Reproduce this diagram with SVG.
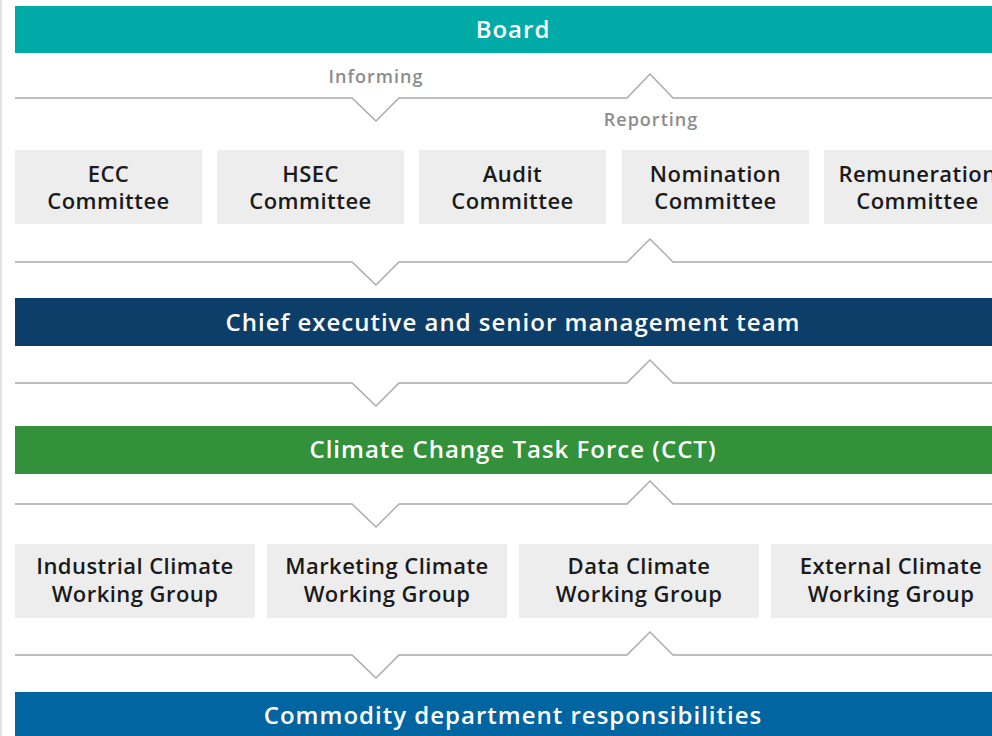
<svg xmlns="http://www.w3.org/2000/svg" width="992" height="736" viewBox="0 0 992 736">
<style>
.bar-t{font-family:"Open Sans","Liberation Sans",sans-serif;font-weight:600;font-size:24px;letter-spacing:1px;fill:#ffffff;text-anchor:middle}
.box{fill:#ededed}
.box-t{font-family:"Open Sans","Liberation Sans",sans-serif;font-weight:600;font-size:22px;letter-spacing:0.45px;fill:#1a1a1a;text-anchor:middle}
.lbl{font-family:"Open Sans","Liberation Sans",sans-serif;font-weight:600;font-size:18px;letter-spacing:1px;fill:#8c8c8c;text-anchor:middle}
.conn{fill:none;stroke:#a9a9a9;stroke-width:1.4}
</style>
<rect x="0" y="0" width="992" height="736" fill="#ffffff"/>
<rect x="0" y="0" width="2" height="736" fill="#e3e3e3"/>
<g id="connectors">
<polyline class="conn" points="15,98 352,98 376,121 399,98 627,98 650,74 673,98 992,98"/>
<polyline class="conn" points="15,262 352,262 376,285 399,262 627,262 650,239 673,262 992,262"/>
<polyline class="conn" points="15,383 352,383 376,406 399,383 627,383 650,360 673,383 992,383"/>
<polyline class="conn" points="15,504 352,504 376,527 399,504 627,504 650,481 673,504 992,504"/>
<polyline class="conn" points="15,655 352,655 376,678 399,655 627,655 650,632 673,655 992,655"/>
<text class="lbl" x="376" y="83">Informing</text>
<text class="lbl" x="651" y="126">Reporting</text>
</g>
<g id="board">
<rect x="15" y="6" width="994" height="47" fill="#00aaa6"/>
<text class="bar-t" x="513" y="38">Board</text>
</g>
<g id="ecc">
<rect class="box" x="15" y="150" width="187" height="74"/>
<text class="box-t" x="108.5" y="182">ECC</text>
<text class="box-t" x="108.5" y="209">Committee</text>
</g>
<g id="hsec">
<rect class="box" x="217" y="150" width="187" height="74"/>
<text class="box-t" x="310.5" y="182">HSEC</text>
<text class="box-t" x="310.5" y="209">Committee</text>
</g>
<g id="audit">
<rect class="box" x="419" y="150" width="187" height="74"/>
<text class="box-t" x="512.5" y="182">Audit</text>
<text class="box-t" x="512.5" y="209">Committee</text>
</g>
<g id="nomination">
<rect class="box" x="622" y="150" width="187" height="74"/>
<text class="box-t" x="715.5" y="182">Nomination</text>
<text class="box-t" x="715.5" y="209">Committee</text>
</g>
<g id="remuneration">
<rect class="box" x="824" y="150" width="187" height="74"/>
<text class="box-t" x="917.5" y="182">Remuneration</text>
<text class="box-t" x="917.5" y="209">Committee</text>
</g>
<g id="chief">
<rect x="15" y="298" width="994" height="48" fill="#0d3e6a"/>
<text class="bar-t" x="513" y="331">Chief executive and senior management team</text>
</g>
<g id="cct">
<rect x="15" y="426" width="994" height="48" fill="#32913a"/>
<text class="bar-t" x="513" y="458">Climate Change Task Force (CCT)</text>
</g>
<g id="industrial">
<rect class="box" x="15" y="544" width="240" height="74"/>
<text class="box-t" x="135" y="574">Industrial Climate</text>
<text class="box-t" x="135" y="602">Working Group</text>
</g>
<g id="marketing">
<rect class="box" x="267" y="544" width="240" height="74"/>
<text class="box-t" x="387" y="574">Marketing Climate</text>
<text class="box-t" x="387" y="602">Working Group</text>
</g>
<g id="data">
<rect class="box" x="519" y="544" width="240" height="74"/>
<text class="box-t" x="639" y="574">Data Climate</text>
<text class="box-t" x="639" y="602">Working Group</text>
</g>
<g id="external">
<rect class="box" x="771" y="544" width="240" height="74"/>
<text class="box-t" x="891" y="574">External Climate</text>
<text class="box-t" x="891" y="602">Working Group</text>
</g>
<g id="commodity">
<rect x="15" y="692" width="994" height="50" fill="#0065a0"/>
<text class="bar-t" x="513" y="724">Commodity department responsibilities</text>
</g>
</svg>
